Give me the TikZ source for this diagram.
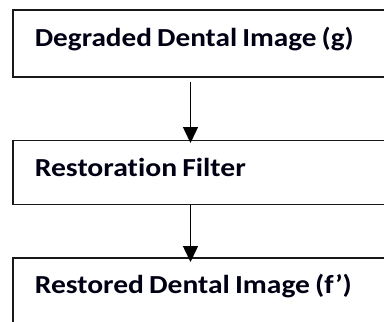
\documentclass[tikz,border=0pt]{standalone}
\usepackage{graphicx}
\usepackage{fontspec}
\setmainfont{Carlito}[Ligatures={NoCommon}]
\usetikzlibrary{arrows.meta}
\newcommand\myboxfont{\fontsize{26}{31}\selectfont\bfseries}
\newcommand\fitw[2]{\resizebox{#1}{\height}{\spaceskip=4.5pt\relax #2}}
\begin{document}
\begin{tikzpicture}[x=1pt,y=-1pt,
  box/.style={draw=black!90, line width=1.6pt, anchor=north west, inner xsep=22pt, inner ysep=0pt,
    text width=360pt, align=left, font=\myboxfont, text=black!92!blue},
  conn/.style={draw=black, line width=1.4pt, -{Triangle[width=15pt,length=16pt]}}]
\clip (0,0) rectangle (384,322);
\fill[white] (0,0) rectangle (384,322);
\node[box, text height=37pt, text depth=30pt] (top) at (12,9) {\fitw{319pt}{Degraded Dental Image (g)}};
\node[box, text height=36.5pt, text depth=27.5pt] (mid) at (12,139.5) {\fitw{211pt}{Restoration Filter}};
\node[box, text height=35.5pt, text depth=40pt] (bot) at (12,257) {\fitw{317pt}{Restored Dental Image (f’)}};
\coordinate (ax) at (190.5,0);
\draw[conn, shorten <=4pt, shorten >=-3.5pt] (top.south -| ax) -- (mid.north -| ax);
\draw[conn, shorten >=-5pt] (mid.south -| ax) -- (bot.north -| ax);
\end{tikzpicture}
\end{document}
